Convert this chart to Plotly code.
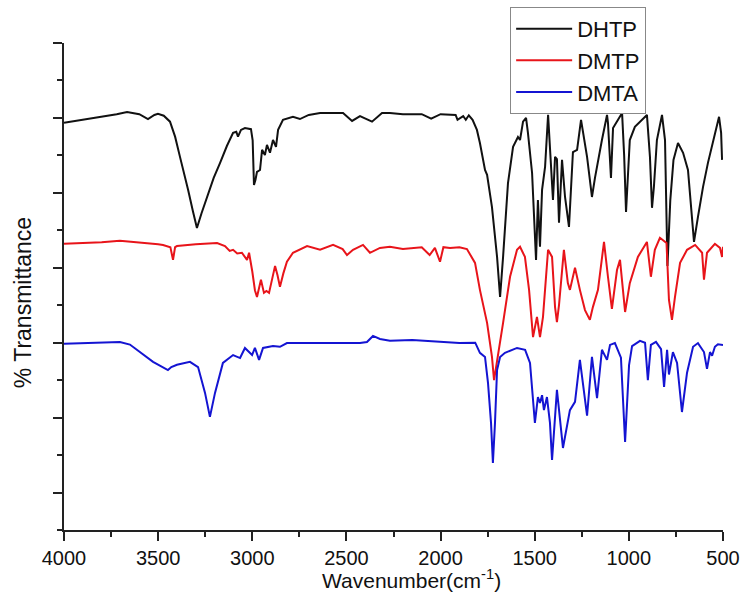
import plotly.graph_objects as go

# FTIR spectra (wavenumber in cm-1, transmittance in arbitrary offset units)
DHTP_WN = [4000, 3900, 3800, 3720, 3665, 3600, 3554, 3520, 3501, 3470, 3437, 3410, 3384, 3360,
           3341, 3315, 3294, 3270, 3241, 3205, 3171, 3135, 3102, 3085, 3076, 3060, 3039, 3007,
           2998, 2991, 2983, 2975, 2959, 2948, 2933, 2922, 2906, 2890, 2874, 2863, 2837, 2784,
           2747, 2700, 2640, 2518, 2470, 2428, 2364, 2311, 2269, 2200, 2100, 2050, 2000, 1920,
           1910, 1880, 1866, 1850, 1830, 1807, 1791, 1764, 1753, 1727, 1700, 1684, 1668, 1642,
           1615, 1589, 1578, 1562, 1546, 1536, 1514, 1493, 1483, 1472, 1461, 1445, 1429, 1419,
           1403, 1392, 1382, 1371, 1355, 1339, 1318, 1297, 1275, 1254, 1222, 1196, 1180, 1143,
           1116, 1111, 1095, 1084, 1036, 1025, 1015, 995, 968, 904, 888, 877, 867, 851, 824, 808,
           795, 780, 763, 739, 712, 686, 654, 633, 606, 580, 543, 521, 510, 505]
DHTP_T = [108.7, 109.5, 110.3, 111.0, 111.6, 111.0, 109.7, 110.8, 111.1, 110.6, 109.0, 105.0, 99.6, 95.0,
          90.8, 85.0, 80.6, 84.5, 88.9, 94.0, 98.0, 102.5, 106.0, 106.3, 105.0, 106.8, 107.3, 107.0,
          104.0, 92.1, 93.5, 95.6, 96.1, 101.5, 100.1, 102.8, 100.7, 104.1, 102.3, 106.8, 109.5, 110.3,
          109.7, 110.8, 111.3, 111.3, 109.2, 110.5, 109.0, 111.3, 111.3, 111.0, 111.0, 109.8, 111.0, 110.8,
          109.5, 110.5, 109.5, 110.7, 109.5, 106.8, 103.3, 96.1, 94.8, 86.2, 72.9, 62.2, 72.9, 92.6,
          102.3, 104.9, 104.1, 109.0, 110.0, 106.0, 95.3, 72.1, 88.1, 75.6, 90.8, 96.9, 110.8, 101.5,
          88.1, 99.6, 99.0, 82.0, 98.8, 88.9, 80.9, 100.9, 101.5, 109.5, 99.6, 88.9, 94.0, 104.1,
          110.8, 108.7, 94.0, 107.3, 111.3, 100.0, 84.9, 104.1, 107.6, 110.8, 99.6, 86.0, 91.6, 104.1, 110.8, 104.1,
          70.5, 88.0, 98.8, 103.3, 100.7, 96.1, 76.9, 83.6, 91.6, 98.0, 106.0, 110.3, 106.0, 98.8]

DMTP_WN = [4000, 3900, 3800, 3703, 3600, 3500, 3474, 3435, 3421, 3410, 3400, 3300, 3187, 3145,
           3120, 3102, 3080, 3055, 3028, 3017, 3000, 2986, 2975, 2965, 2954, 2938, 2925, 2911,
           2895, 2879, 2866, 2853, 2835, 2816, 2784, 2709, 2640, 2571, 2520, 2497, 2465, 2412,
           2375, 2322, 2269, 2200, 2100, 2058, 2030, 2003, 1985, 1950, 1900, 1860, 1817, 1791,
           1753, 1727, 1716, 1695, 1668, 1631, 1594, 1578, 1562, 1552, 1530, 1509, 1488, 1472,
           1456, 1429, 1408, 1392, 1382, 1371, 1345, 1324, 1313, 1286, 1260, 1233, 1207, 1191,
           1164, 1132, 1111, 1090, 1063, 1047, 1020, 995, 952, 904, 883, 862, 835, 800, 787, 771,
           755, 728, 691, 648, 611, 601, 585, 543, 516, 505, 500]
DMTP_T = [76.4, 76.6, 76.8, 77.2, 76.8, 76.3, 76.1, 75.5, 72.1, 75.5, 75.8, 76.3, 76.6, 75.8,
          74.5, 74.8, 73.8, 74.0, 72.1, 74.0, 69.0, 64.0, 62.2, 64.5, 66.8, 63.3, 63.8, 63.3,
          67.0, 70.5, 68.0, 64.9, 68.5, 71.6, 74.0, 75.8, 74.8, 76.1, 75.0, 73.4, 74.8, 76.1,
          74.0, 75.3, 75.6, 75.0, 75.5, 73.4, 75.3, 71.6, 75.5, 75.3, 75.5, 75.0, 71.3, 64.1,
          55.3, 46.2, 40.0, 46.2, 55.3, 67.6, 74.8, 75.6, 74.0, 72.9, 64.1, 51.5, 56.9, 51.5,
          56.9, 74.8, 72.9, 59.5, 55.5, 60.0, 74.8, 65.9, 64.1, 70.0, 64.1, 58.7, 56.1, 59.5,
          64.1, 76.9, 67.6, 59.0, 69.4, 72.1, 58.2, 65.9, 72.9, 76.9, 67.6, 74.8, 78.0, 76.6, 61.4, 56.1,
          62.2, 71.3, 74.8, 76.1, 74.0, 66.8, 74.0, 76.4, 75.3, 72.9, 75.6]

DMTA_WN = [4000, 3850, 3703, 3650, 3612, 3570, 3527, 3448, 3430, 3400, 3331, 3288, 3251, 3225,
           3198, 3156, 3102, 3065, 3039, 3001, 2986, 2964, 2943, 2890, 2853, 2816, 2678, 2550,
           2428, 2391, 2359, 2322, 2269, 2150, 2000, 1900, 1816, 1791, 1764, 1748, 1732, 1722,
           1711, 1700, 1684, 1658, 1594, 1551, 1525, 1499, 1483, 1472, 1461, 1451, 1435, 1419,
           1408, 1382, 1350, 1313, 1286, 1260, 1222, 1196, 1169, 1143, 1116, 1100, 1074, 1042,
           1020, 999, 983, 941, 914, 899, 883, 856, 829, 813, 797, 787, 766, 744, 718, 691, 659,
           633, 601, 585, 569, 558, 543, 527, 500]
DMTA_T = [49.7, 50.0, 50.2, 49.5, 48.1, 46.5, 44.9, 42.7, 43.5, 44.1, 44.9, 43.5, 36.6, 30.2,
          36.6, 44.6, 46.7, 45.9, 48.6, 46.7, 48.6, 45.4, 48.6, 49.1, 48.9, 49.9, 49.9, 49.9,
          49.9, 50.2, 51.8, 51.0, 50.5, 50.7, 50.2, 49.9, 50.0, 47.3, 46.2, 39.2, 28.6, 17.9,
          28.6, 42.7, 46.2, 47.3, 48.6, 48.1, 44.6, 28.6, 35.5, 33.9, 36.0, 32.0, 35.5, 28.6,
          18.7, 37.4, 21.9, 32.0, 34.2, 45.4, 30.5, 46.2, 35.2, 48.1, 45.4, 49.4, 49.9, 46.0,
          23.5, 44.0, 49.1, 50.5, 50.0, 40.0, 49.4, 50.2, 48.3, 38.2, 48.1, 41.5, 47.5, 44.6, 31.5, 42.0, 48.9,
          49.9, 47.5, 43.0, 47.5, 46.5, 48.9, 49.6, 49.4]

SERIES = [("DHTP", DHTP_WN, DHTP_T, "#111111"),
          ("DMTP", DMTP_WN, DMTP_T, "#e8141a"),
          ("DMTA", DMTA_WN, DMTA_T, "#1414d2")]

FONT = "Arial, Liberation Sans, sans-serif"

fig = go.Figure()
for name, wn, t, color in SERIES:
    fig.add_trace(go.Scatter(x=wn, y=t, name=name, mode="lines",
                             line=dict(color=color, width=2)))

fig.update_layout(
    width=742, height=604,
    margin=dict(l=64, r=19, t=43, b=74, autoexpand=False),
    plot_bgcolor="white", paper_bgcolor="white",
    font=dict(family=FONT, color="#111111"),
    showlegend=True,
    legend=dict(x=0.677, y=1.074, xanchor="left", yanchor="top",
                bgcolor="white", bordercolor="#888888", borderwidth=1,
                itemwidth=56, tracegroupgap=0,
                font=dict(size=22, family=FONT)),
)

fig.update_xaxes(range=[4000, 500], tick0=500, dtick=500,
                 ticks="outside", ticklen=9, tickwidth=1.5, tickcolor="#222222",
                 minor=dict(dtick=250, ticks="outside", ticklen=5, tickwidth=1.5, tickcolor="#222222"),
                 showline=True, linecolor="#222222", linewidth=1.5,
                 showgrid=False, zeroline=False, automargin=False,
                 tickfont=dict(size=20, family=FONT))
fig.update_yaxes(range=[0, 130], tick0=10, dtick=20, showticklabels=False,
                 ticks="outside", ticklen=9, tickwidth=1.5, tickcolor="#222222",
                 minor=dict(dtick=10, ticks="outside", ticklen=5, tickwidth=1.5, tickcolor="#222222"),
                 showline=True, linecolor="#222222", linewidth=1.5,
                 showgrid=False, zeroline=False, automargin=False)

# axis titles as annotations so they can sit where the original has them
fig.add_annotation(text="Wavenumber(cm<sup>-1</sup>)", xref="paper", yref="paper",
                   x=0.5266, y=-0.1006, showarrow=False, xanchor="center", yanchor="middle",
                   font=dict(size=21, family=FONT))
fig.add_annotation(text="% Transmittance", xref="paper", yref="paper",
                   x=-0.062, y=0.466, showarrow=False, textangle=-90,
                   xanchor="center", yanchor="middle",
                   font=dict(size=23, family=FONT))

# drop the browser's default body margin so the figure sits at the window's corner
fig.write_html("out.html", config={"displayModeBar": False},
               post_script="document.body.style.margin='0px';")
